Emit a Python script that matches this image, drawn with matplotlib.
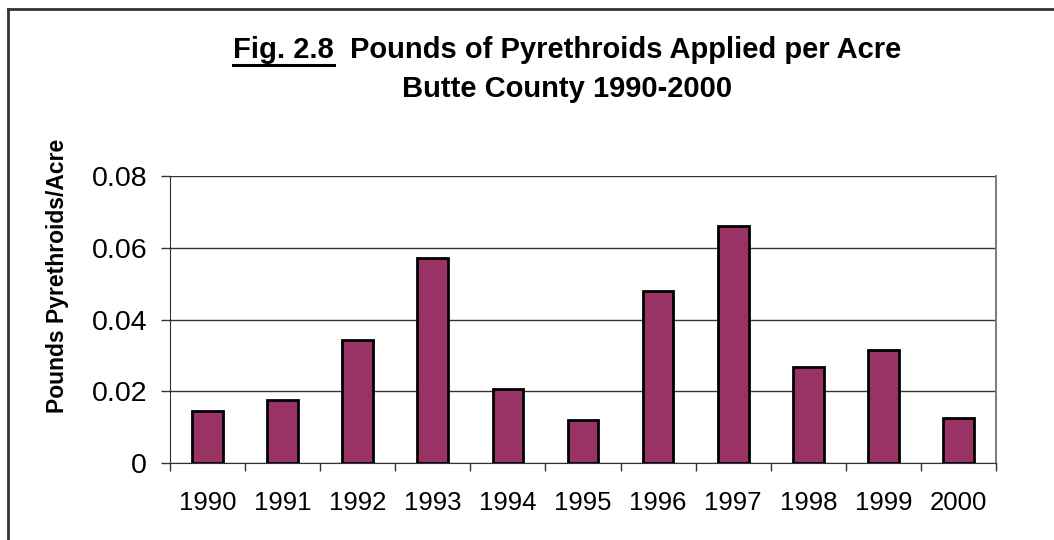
import matplotlib
matplotlib.use("Agg")
import matplotlib.pyplot as plt
from matplotlib.lines import Line2D

plt.rcParams['font.family'] = ['Liberation Sans', 'DejaVu Sans']

years = ['1990', '1991', '1992', '1993', '1994', '1995',
         '1996', '1997', '1998', '1999', '2000']
pounds_per_acre = [0.0146, 0.0176, 0.0343, 0.0572, 0.0207, 0.0119,
                   0.0480, 0.0661, 0.0267, 0.0316, 0.0125]
yticks = [0, 0.02, 0.04, 0.06, 0.08]
ytick_labels = ['0', '0.02', '0.04', '0.06', '0.08']

W, H = 1054, 540
fig = plt.figure(figsize=(W / 100, H / 100), dpi=100)
ax = fig.add_axes([170 / W, 1 - 463 / H, (996 - 170) / W, (463 - 176) / H])

x = list(range(len(years)))
ax.bar(x, pounds_per_acre, width=0.41, color='#993366', edgecolor='black',
       linewidth=2, zorder=3)

ax.set_xlim(-0.5, len(years) - 0.5)
ax.set_ylim(0, 0.08)
ax.set_yticks(yticks)
ax.set_yticklabels(ytick_labels, fontsize=20.5)
ax.set_xticks([i - 0.5 for i in range(len(years) + 1)], minor=False)
ax.set_xticklabels([])
ax.set_xticks(x, minor=True)
ax.set_xticklabels(years, minor=True, fontsize=18.5)
ax.tick_params(axis='x', which='minor', length=0, pad=20)
ax.tick_params(axis='x', which='major', length=6, direction='out', width=1,
               color='#333333')
ax.tick_params(axis='y', length=6.5, direction='out', width=1, pad=10,
               color='#333333')
ax.yaxis.grid(True, color='#333333', linewidth=1, zorder=0)
ax.set_axisbelow(True)

ax.spines['top'].set_visible(False)
ax.spines['right'].set_color('#808080')
ax.spines['right'].set_linewidth(1.5)
ax.spines['left'].set_color('#333333')
ax.spines['bottom'].set_color('#333333')

fig.text(58 / W, 1 - 276 / H, 'Pounds Pyrethroids/Acre', rotation=90,
         ha='center', va='center', fontsize=16.5, fontweight='bold')

title1 = 'Fig. 2.8  Pounds of Pyrethroids Applied per Acre'
t1 = fig.text(567 / W, 1 - 58 / H, title1,
              ha='center', va='baseline', fontsize=21, fontweight='bold')
fig.text(567 / W, 1 - 97 / H, 'Butte County 1990-2000',
         ha='center', va='baseline', fontsize=21, fontweight='bold')

# underline under "Fig. 2.8"
fig.canvas.draw()
r = fig.canvas.get_renderer()
bb = t1.get_window_extent(r)
tmp = fig.text(0, 0, 'Fig. 2.8', fontsize=21, fontweight='bold')
wfig = tmp.get_window_extent(r).width
tmp.remove()
uy = 1 - 64.5 / H
fig.add_artist(Line2D([bb.x0 / W, (bb.x0 + wfig) / W], [uy, uy],
                      color='black', linewidth=2.2))

# chart border (left and top visible)
fig.add_artist(Line2D([7.5 / W, 7.5 / W], [0, 1 - 9 / H], color='#333333', linewidth=2))
fig.add_artist(Line2D([7.5 / W, 1], [1 - 9 / H, 1 - 9 / H], color='#333333', linewidth=2))

fig.savefig('out.png', dpi=100)
